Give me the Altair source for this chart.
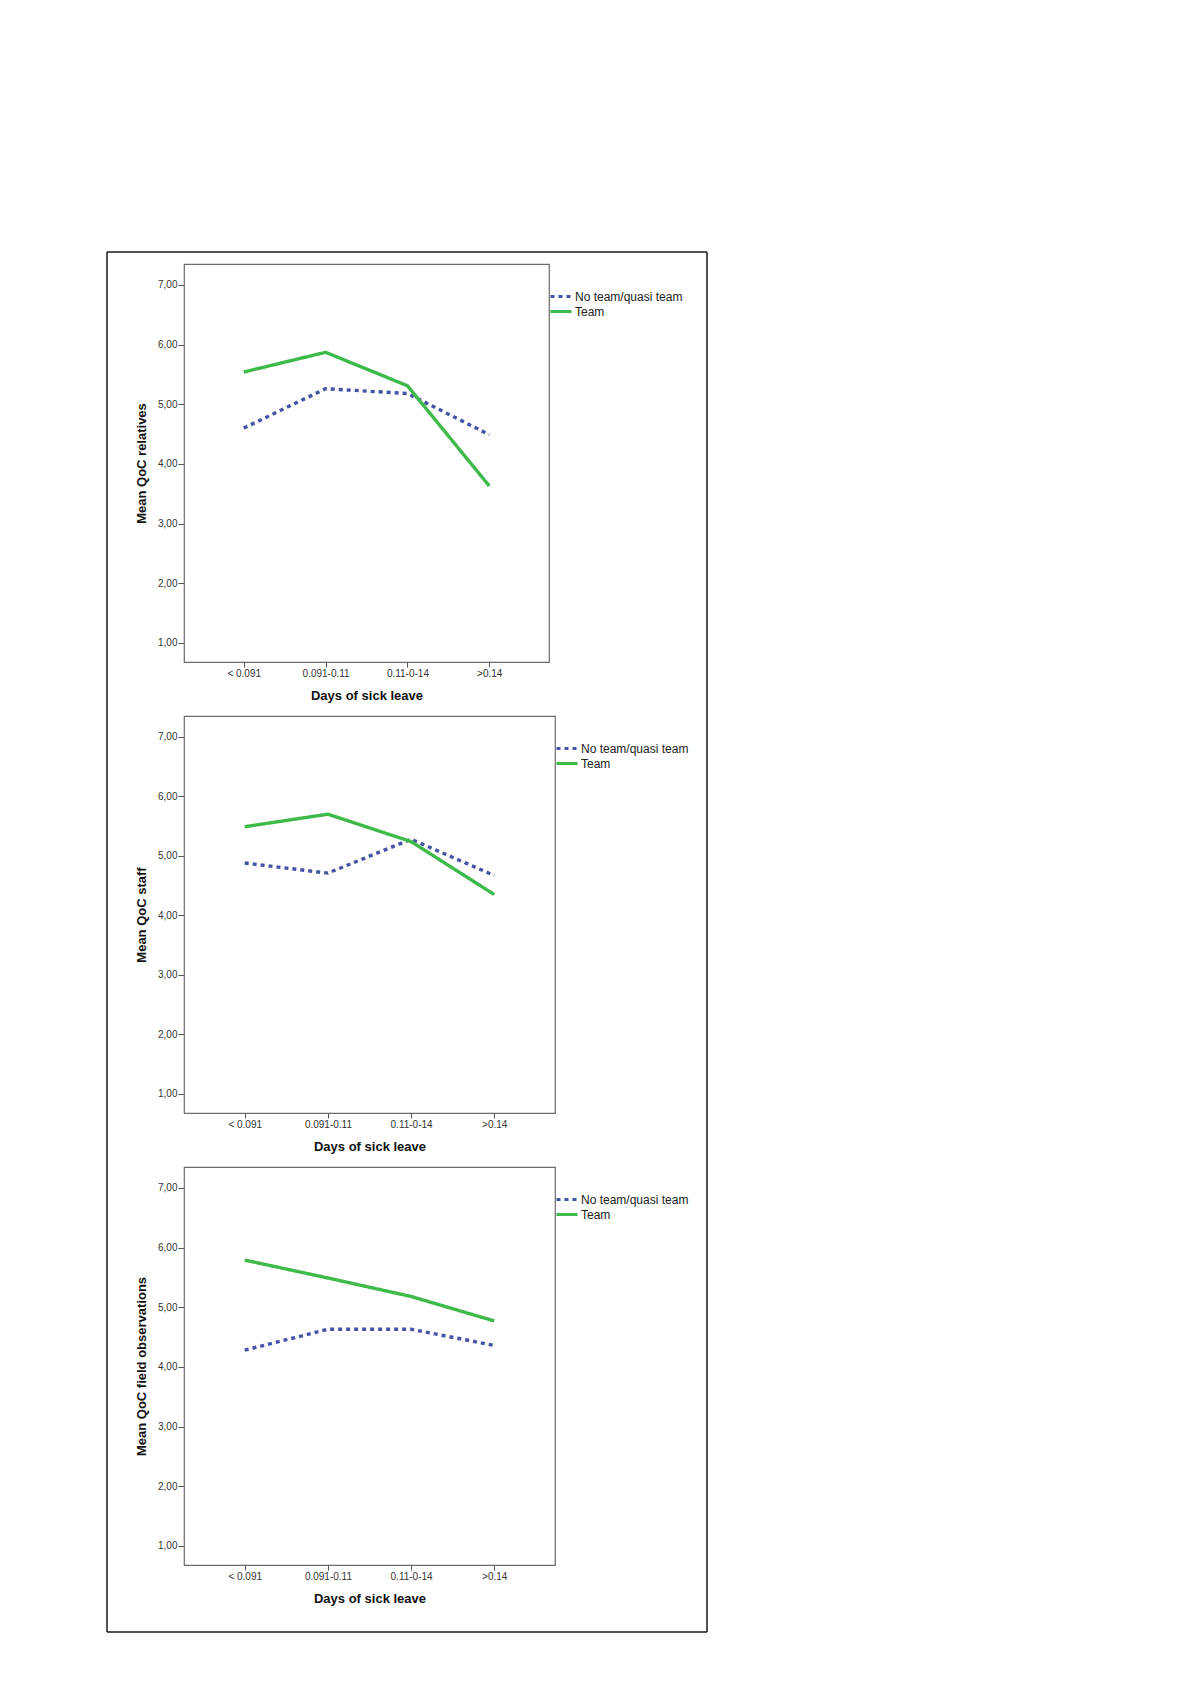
import altair as alt
import pandas as pd

categories = ["< 0.091", "0.091-0.11", "0.11-0-14", ">0.14"]
series = ["No team/quasi team", "Team"]

relatives_noteam = [4.60, 5.26, 5.18, 4.49]
relatives_team = [5.54, 5.87, 5.31, 3.63]
staff_noteam = [4.88, 4.71, 5.28, 4.67]
staff_team = [5.49, 5.70, 5.24, 4.35]
field_noteam = [4.28, 4.63, 4.63, 4.36]
field_team = [5.79, 5.49, 5.18, 4.77]

y_titles = ["Mean QoC relatives", "Mean QoC staff", "Mean QoC field observations"]
x_title = "Days of sick leave"
y_ticks = [1, 2, 3, 4, 5, 6, 7]
colors = ["#4553a5", "#3dba4a"]
dashes = [[4, 4], [1, 0]]

FONT = "Liberation Sans"


def panel(noteam, team, ytitle, width, height, top_ext, bottom_ext, draw_top, draw_bottom):
    rows = []
    for c, v in zip(categories, noteam):
        rows.append({"cat": c, "value": v, "group": series[0]})
    for c, v in zip(categories, team):
        rows.append({"cat": c, "value": v, "group": series[1]})
    df = pd.DataFrame(rows)

    lines = alt.Chart(df).mark_line(strokeWidth=3.4, strokeCap="butt").encode(
        x=alt.X("cat:N", sort=categories, title=x_title,
                scale=alt.Scale(type="point", padding=0.73),
                axis=alt.Axis(labelAngle=0, tickSize=5, labelPadding=1, titlePadding=11,
                              domain=False, grid=False)),
        y=alt.Y("value:Q", title=ytitle,
                scale=alt.Scale(domain=[0.68, 7.35], nice=False, zero=False),
                axis=alt.Axis(values=y_ticks, tickSize=6, labelPadding=1, titlePadding=9,
                              domain=False, grid=False,
                              labelExpr="replace(format(datum.value, '.2f'), '.', ',')")),
        color=alt.Color("group:N", scale=alt.Scale(domain=series, range=colors),
                        legend=alt.Legend(title=None, orient="none", legendX=width + 3,
                                          legendY=23.5, padding=0, rowPadding=0,
                                          symbolType="M-1.4,0H1.4", symbolSize=225,
                                          symbolStrokeWidth=3, labelOffset=5,
                                          labelFontSize=12, labelFont=FONT,
                                          labelColor="#222")),
        strokeDash=alt.StrokeDash("group:N", scale=alt.Scale(domain=series, range=dashes),
                                  legend=alt.Legend(title=None, orient="none",
                                                    legendX=width + 3, legendY=23.5)),
    )

    one = pd.DataFrame({"k": [0]})
    left = -77
    right = 523
    fr = alt.Chart(one).mark_rule(color="#1a1a1a", strokeWidth=1.5)
    layers = [
        fr.encode(x=alt.value(left), y=alt.value(-top_ext), y2=alt.value(height + bottom_ext)),
        fr.encode(x=alt.value(right), y=alt.value(-top_ext), y2=alt.value(height + bottom_ext)),
    ]
    if draw_top:
        layers.append(fr.encode(y=alt.value(-top_ext), x=alt.value(left), x2=alt.value(right)))
    if draw_bottom:
        layers.append(fr.encode(y=alt.value(height + bottom_ext), x=alt.value(left), x2=alt.value(right)))

    return alt.layer(*layers, lines).resolve_scale(color="independent", strokeDash="independent").properties(
        width=width, height=height)


p1 = panel(relatives_noteam, relatives_team, y_titles[0], 365, 398, 12, 50, True, False)
p2 = panel(staff_noteam, staff_team, y_titles[1], 371, 397, 4, 50, False, False)
p3 = panel(field_noteam, field_team, y_titles[2], 371, 398, 4, 67, False, True)

chart = alt.vconcat(p1, p2, p3, spacing=-4).resolve_scale(
    color="independent", strokeDash="independent"
).resolve_legend(color="independent", strokeDash="independent").properties(
    padding={"top": 242, "left": 97, "right": 10, "bottom": 10}
).configure_view(
    stroke="#6b6b6b", strokeWidth=1.2
).configure_axis(
    labelFont=FONT, titleFont=FONT, labelFontSize=10, labelColor="#333",
    tickColor="#555", titleFontSize=13, titleFontWeight="bold", titleColor="#111"
).configure_legend(
    labelFont=FONT
)

chart.save("out.html", embed_options={"renderer": "svg", "actions": False})
